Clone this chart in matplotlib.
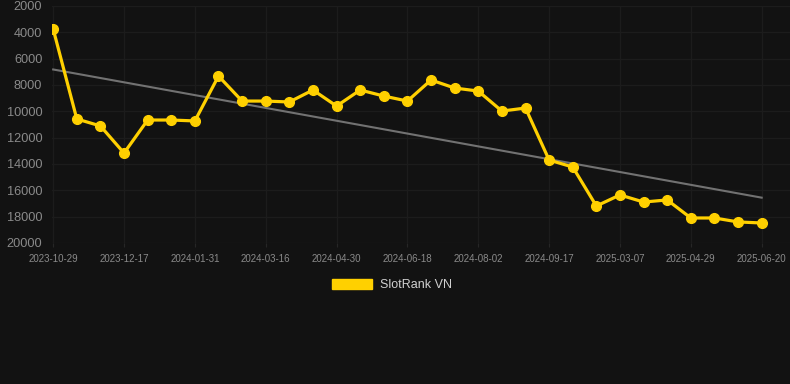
import numpy as np
import matplotlib.pyplot as plt

plt.rcParams['font.family'] = ['Liberation Sans', 'DejaVu Sans']

# rank per sample (lower on the chart = worse rank)
ranks = [3750, 10580, 11110, 13170, 10660, 10660, 10730, 7320, 9220, 9220,
         9290, 8380, 9600, 8380, 8840, 9220, 7620, 8230, 8460, 9980,
         9750, 13700, 14230, 17190, 16350, 16890, 16730, 18100, 18100, 18400,
         18480]
tick_labels = ['2023-10-29', '2023-12-17', '2024-01-31', '2024-03-16', '2024-04-30',
               '2024-06-18', '2024-08-02', '2024-09-17', '2025-03-07', '2025-04-29',
               '2025-06-20']
series_name = 'SlotRank VN'

bg = '#121212'
yellow = '#FFD000'

x = np.arange(len(ranks))
a, b = np.polyfit(x, ranks, 1)

fig = plt.figure(figsize=(7.9, 3.84), dpi=100, facecolor=bg)
ax = fig.add_axes([52 / 790, 1 - 243 / 384, 1 - 52 / 790, (243 - 6) / 384])
ax.set_facecolor(bg)

ax.plot(x, a * x + b, color='#727272', lw=1.5, zorder=2)
ax.plot(x, ranks, color=yellow, lw=2.3, marker='o', ms=7, zorder=3)

ax.set_ylim(20000, 2000)
ax.set_yticks(range(2000, 20001, 2000))
ax.set_xlim(-0.05, 31.2)
ax.set_xticks(x[::3])
ax.set_xticklabels(tick_labels)

ax.grid(True, color='#1c1c1c', lw=1)
ax.set_axisbelow(True)
for s in ax.spines.values():
    s.set_visible(False)
ax.tick_params(axis='y', length=0, pad=7, labelsize=9.2, labelcolor='#8a8a8a')
ax.tick_params(axis='x', length=3, color='#262626', pad=5, labelsize=7, labelcolor='#8a8a8a')

# legend
leg = fig.legend(handles=[plt.Rectangle((0, 0), 1, 1, color=yellow)], labels=[series_name],
                 loc='center', bbox_to_anchor=(392 / 790, 1 - 285 / 384), frameon=False,
                 handlelength=3.2, handleheight=0.9, fontsize=9, labelcolor='#d0d0d0',
                 handletextpad=0.6)

fig.savefig('out.png', dpi=100, facecolor=bg)
